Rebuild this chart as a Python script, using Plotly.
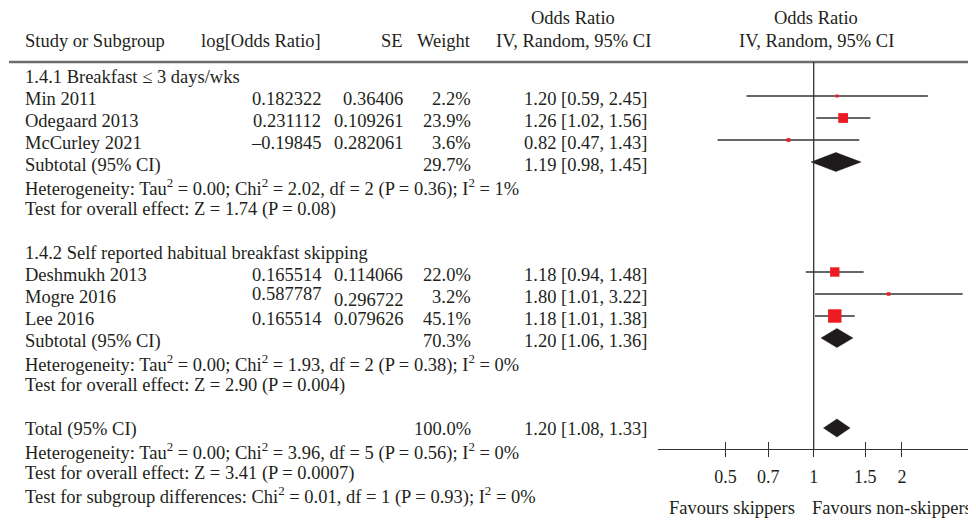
import math
import plotly.graph_objects as go

# ---------------- data ----------------
studies1 = ["Min 2011", "Odegaard 2013", "McCurley 2021"]
studies2 = ["Deshmukh 2013", "Mogre 2016", "Lee 2016"]
log_or1 = [0.182322, 0.231112, -0.19845]
se1 = [0.36406, 0.109261, 0.282061]
weight1 = [2.2, 23.9, 3.6]
or1 = [1.20, 1.26, 0.82]
lo1 = [0.59, 1.02, 0.47]
hi1 = [2.45, 1.56, 1.43]

log_or2 = [0.165514, 0.587787, 0.165514]
se2 = [0.114066, 0.296722, 0.079626]
weight2 = [22.0, 3.2, 45.1]
or2 = [1.18, 1.80, 1.18]
lo2 = [0.94, 1.01, 1.01]
hi2 = [1.48, 3.22, 1.38]

sub_weight = [29.7, 70.3]
sub_or = [1.19, 1.20]
sub_lo = [0.98, 1.06]
sub_hi = [1.45, 1.36]

total_weight = 100.0
total_or = 1.20
total_lo = 1.08
total_hi = 1.33

tick_vals = [0.5, 0.7, 1, 1.5, 2]
tick_text = ["0.5", "0.7", "1", "1.5", "2"]

group_titles = ["1.4.1 Breakfast ≤ 3 days/wks", "1.4.2 Self reported habitual breakfast skipping"]
het_texts = [
    "Heterogeneity: Tau<sup>2</sup> = 0.00; Chi<sup>2</sup> = 2.02, df = 2 (P = 0.36); I<sup>2</sup> = 1%",
    "Heterogeneity: Tau<sup>2</sup> = 0.00; Chi<sup>2</sup> = 1.93, df = 2 (P = 0.38); I<sup>2</sup> = 0%",
]
effect_texts = ["Test for overall effect: Z = 1.74 (P = 0.08)", "Test for overall effect: Z = 2.90 (P = 0.004)"]
total_het = "Heterogeneity: Tau<sup>2</sup> = 0.00; Chi<sup>2</sup> = 3.96, df = 5 (P = 0.56); I<sup>2</sup> = 0%"
total_effect = "Test for overall effect: Z = 3.41 (P = 0.0007)"
subgroup_diff = "Test for subgroup differences: Chi<sup>2</sup> = 0.01, df = 1 (P = 0.93); I<sup>2</sup> = 0%"

# ---------------- layout helpers ----------------
VW, VH = 976, 521          # browser window
OFF = 8                    # default page body margin
W, H = VW - OFF, VH - OFF  # figure size
FONT = "Liberation Serif"
TXT = "#231f20"
FS = 18.5
ROW0, STEP = 77, 22
GOFF = -3  # graphic offset relative to text row


def row(k):
    return ROW0 + STEP * k


def px(x):
    return (x - OFF) / W


annotations = []


def txt(x, y, s, anchor="left", size=FS, yshift=0):
    annotations.append(dict(x=px(x), y=y, xref="paper", yref="y", text=s, showarrow=False,
                            xanchor=anchor, yanchor="middle", yshift=yshift,
                            font=dict(family=FONT, size=size, color=TXT)))


def fmt_ci(o, l, h):
    return f"{o:.2f} [{l:.2f}, {h:.2f}]"


def fmt_num(v):
    return f"{v:g}".replace("-", "–")


X_NAME, X_LOG, X_SE, X_W, X_CI, X_CIH, X_PLOTH = 23, 323, 405, 473, 649, 573, 816

# headers
txt(X_CIH, 18, "Odds Ratio", "center")
txt(X_PLOTH, 18, "Odds Ratio", "center")
txt(X_NAME, 41, "Study or Subgroup")
txt(X_LOG, 41, "log[Odds Ratio]", "right")
txt(X_SE, 41, "SE", "right")
txt(X_W, 41, "Weight", "right")
txt(X_CIH, 41, "IV, Random, 95% CI", "center")
txt(X_PLOTH, 41, "IV, Random, 95% CI", "center")

fig = go.Figure()

groups = [
    (studies1, log_or1, se1, weight1, or1, lo1, hi1, 0),
    (studies2, log_or2, se2, weight2, or2, lo2, hi2, 8),
]
ci_x, ci_y, sq_x, sq_y, sq_s = [], [], [], [], []
for gi, (names, lors, ses, ws, ors, los, his, k0) in enumerate(groups):
    txt(X_NAME, row(k0), group_titles[gi])
    for i, name in enumerate(names):
        y = row(k0 + 1 + i)
        txt(X_NAME, y, name)
        sh_l, sh_s = (3, -3) if name == "Mogre 2016" else (0, 0)
        txt(X_LOG, y, fmt_num(lors[i]), "right", yshift=sh_l)
        txt(X_SE, y, fmt_num(ses[i]), "right", yshift=sh_s)
        txt(X_W, y, f"{ws[i]:.1f}%", "right")
        txt(X_CI, y, fmt_ci(ors[i], los[i], his[i]), "right")
        ci_x += [los[i], his[i], None]
        ci_y += [y + GOFF, y + GOFF, None]
        sq_x.append(ors[i])
        sq_y.append(y + GOFF)
        sq_s.append(max(3, 2.0 * math.sqrt(ws[i])))
    ys = row(k0 + 4)
    txt(X_NAME, ys, "Subtotal (95% CI)")
    txt(X_W, ys, f"{sub_weight[gi]:.1f}%", "right")
    txt(X_CI, ys, fmt_ci(sub_or[gi], sub_lo[gi], sub_hi[gi]), "right")
    yd = ys + GOFF
    fig.add_trace(go.Scatter(x=[sub_lo[gi], sub_or[gi], sub_hi[gi], sub_or[gi], sub_lo[gi]],
                             y=[yd, yd - 9.5, yd, yd + 9.5, yd], mode="lines", fill="toself",
                             fillcolor="#1f1a1b", line=dict(color="#1f1a1b", width=0.5),
                             hoverinfo="skip", showlegend=False))
    txt(X_NAME, row(k0 + 5), het_texts[gi])
    txt(X_NAME, row(k0 + 6), effect_texts[gi])

yt = row(16)
txt(X_NAME, yt, "Total (95% CI)")
txt(X_W, yt, f"{total_weight:.1f}%", "right")
txt(X_CI, yt, fmt_ci(total_or, total_lo, total_hi), "right")
ytd = yt - 1
fig.add_trace(go.Scatter(x=[total_lo, total_or, total_hi, total_or, total_lo],
                         y=[ytd, ytd - 9, ytd, ytd + 9, ytd], mode="lines", fill="toself",
                         fillcolor="#1f1a1b", line=dict(color="#1f1a1b", width=0.5),
                         hoverinfo="skip", showlegend=False))
txt(X_NAME, row(17), total_het)
txt(X_NAME, row(18), total_effect)
txt(X_NAME, row(19), subgroup_diff)

fig.add_trace(go.Scatter(x=ci_x, y=ci_y, mode="lines", line=dict(color="#333333", width=1.3),
                         hoverinfo="skip", showlegend=False))
fig.add_trace(go.Scatter(x=sq_x, y=sq_y, mode="markers",
                         marker=dict(symbol="square", size=sq_s, color="#ed1c24", opacity=1,
                                     line=dict(width=0)),
                         hoverinfo="skip", showlegend=False))
# dummy trace so the overlay axis (upper tick halves) renders
fig.add_trace(go.Scatter(x=[1], y=[-100], xaxis="x2", mode="markers", marker=dict(opacity=0),
                         hoverinfo="skip", showlegend=False))

AXIS_Y = 449
txt(797, 508, "Favours skippers", "right")
txt(810, 508, "Favours non-skippers", "left")

shapes = [
    dict(type="line", xref="paper", yref="y", x0=px(9), x1=1, y0=62, y1=62,
         line=dict(color="#6d6d6d", width=2.5)),
    dict(type="line", xref="x", yref="y", x0=1, x1=1, y0=62, y1=AXIS_Y,
         line=dict(color="#333333", width=1.3)),
]

AX_L, AX_R, X_ONE, PX_DEC = 658, 968, 813.7, 293.3
xr = [(AX_L - X_ONE) / PX_DEC, (AX_R - X_ONE) / PX_DEC]
pos = (VH - AXIS_Y) / H
fig.update_layout(
    width=W, height=H, margin=dict(l=0, r=0, t=0, b=0),
    paper_bgcolor="white", plot_bgcolor="rgba(0,0,0,0)",
    showlegend=False, hovermode=False,
    annotations=annotations, shapes=shapes,
    xaxis=dict(type="log", domain=[px(AX_L), px(AX_R)], range=xr, anchor="free", position=pos,
               showline=True, linecolor="#333333", linewidth=1.3, showgrid=False, zeroline=False,
               ticks="outside", ticklen=7, tickwidth=1.3, tickcolor="#333333",
               tickvals=tick_vals, ticktext=tick_text, ticklabelstandoff=4,
               tickfont=dict(family=FONT, size=18, color=TXT)),
    xaxis2=dict(type="log", domain=[px(AX_L), px(AX_R)], range=xr, anchor="free", position=pos,
                overlaying="x", showline=False, showgrid=False, zeroline=False,
                ticks="inside", ticklen=7, tickwidth=1.3, tickcolor="#333333",
                tickvals=tick_vals, showticklabels=False, side="bottom"),
    yaxis=dict(domain=[0, 1], range=[VH, OFF], visible=False, showgrid=False, zeroline=False),
)

fig.write_html("out.html")
